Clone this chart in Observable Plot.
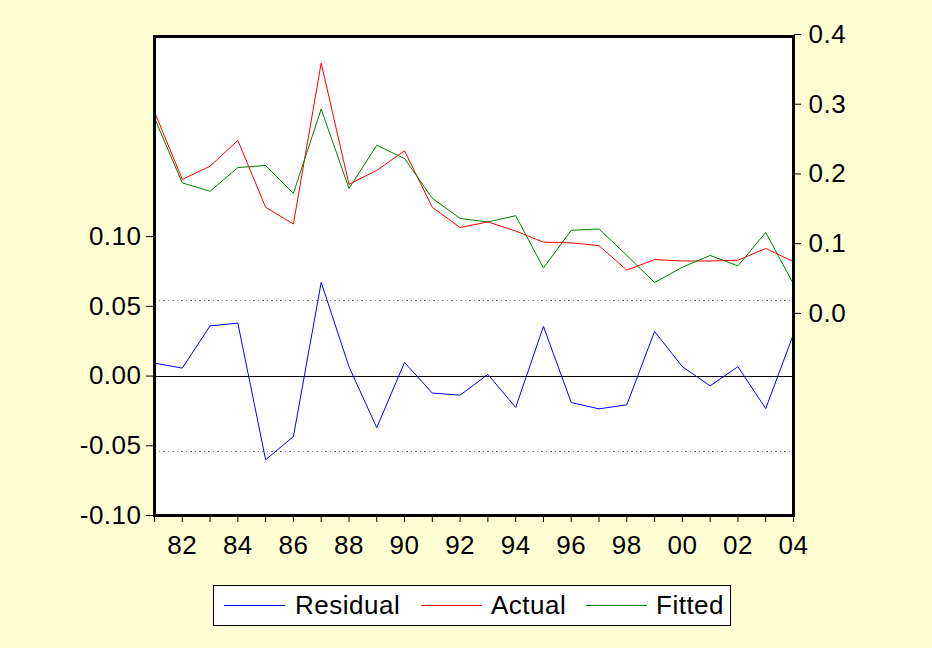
<!DOCTYPE html>
<html><head><meta charset="utf-8">
<script src="https://cdn.jsdelivr.net/npm/d3@7"></script>
<script src="https://cdn.jsdelivr.net/npm/@observablehq/plot@0.6"></script>
<style>
html,body{margin:0;padding:0;background:#ffffd4;}
#chart{width:932px;height:648px;position:relative;overflow:hidden;font-family:"Liberation Sans",Arial,sans-serif;}
#chart svg{position:absolute;left:0;top:0;}
.legend{position:absolute;left:213px;top:585px;width:518px;height:41px;border:1px solid #000;background:#fff;box-sizing:border-box;font-size:26px;letter-spacing:0.5px;color:#000;}
.legend .sw{position:absolute;top:19px;width:61px;height:0;border-top:1px solid;}
.legend .lb{position:absolute;top:5px;line-height:29px;white-space:nowrap;}
</style>
</head><body>
<div id="chart"></div>
<script>
// ---- data ----
const years    = [1981,1982,1983,1984,1985,1986,1987,1988,1989,1990,1991,1992,1993,1994,1995,1996,1997,1998,1999,2000,2001,2002,2003,2004];
const actual   = [0.292,0.195,0.214,0.251,0.155,0.131,0.362,0.188,0.208,0.236,0.155,0.126,0.134,0.121,0.105,0.104,0.100,0.065,0.080,0.078,0.078,0.079,0.096,0.077];
const fitted   = [0.283,0.190,0.178,0.212,0.215,0.175,0.296,0.182,0.244,0.225,0.168,0.139,0.134,0.143,0.068,0.122,0.124,0.086,0.047,0.069,0.086,0.071,0.119,0.045];
const residual = [0.0093,0.0057,0.0360,0.0380,-0.0600,-0.0434,0.0672,0.0067,-0.0370,0.0098,-0.0122,-0.0137,0.0012,-0.0225,0.0356,-0.0190,-0.0235,-0.0206,0.0320,0.0067,-0.0070,0.0067,-0.0233,0.0300];
const seBand   = 0.054;                 // +/- 1 S.E. dotted lines
const leftTicks  = [-0.10,-0.05,0,0.05,0.10];
const rightTicks = [0.0,0.1,0.2,0.3,0.4];
const labelYears = [1982,1984,1986,1988,1990,1992,1994,1996,1998,2000,2002,2004];
const seriesNames  = ["Residual","Actual","Fitted"];
const seriesColors = ["#0000ff","#ff0000","#008000"];

// right (actual/fitted) axis expressed on the left (residual) scale
const R_OFF = 0.04353, R_K = 0.5;
const toLeft = v => R_OFF + R_K * v;

const data = years.map((y, i) => ({year: y, actual: actual[i], fitted: fitted[i], residual: residual[i]}));

const plot = Plot.plot({
  width: 932, height: 575,
  marginLeft: 154, marginRight: 139, marginTop: 36, marginBottom: 60,
  style: {background: "transparent", fontFamily: "Liberation Sans, Arial, sans-serif", fontSize: "26px", color: "#000", letterSpacing: "0.5px", overflow: "visible"},
  x: {domain: [1981, 2004], label: null},
  y: {domain: [-0.10, toLeft(0.4)], label: null},
  marks: [
    Plot.frame({fill: "white"}),
    Plot.ruleY([seBand, -seBand], {stroke: "#808080", strokeDasharray: "1.5,3", shapeRendering: "crispEdges"}),
    Plot.ruleY([0], {stroke: "black", strokeWidth: 1, shapeRendering: "crispEdges"}),
    Plot.line(data, {x: "year", y: d => toLeft(d.actual), stroke: seriesColors[1], strokeWidth: 1}),
    Plot.line(data, {x: "year", y: d => toLeft(d.fitted), stroke: seriesColors[2], strokeWidth: 1}),
    Plot.line(data, {x: "year", y: "residual", stroke: seriesColors[0], strokeWidth: 1}),
    Plot.axisY(leftTicks, {anchor: "left", label: null, tickSize: 8, tickPadding: 5, tickFormat: d => d.toFixed(2)}),
    Plot.axisY(rightTicks.map(toLeft), {anchor: "right", label: null, tickSize: 7, tickPadding: 8, dy: -2, tickFormat: d => ((d - R_OFF) / R_K).toFixed(1)}),
    Plot.axisX(years, {anchor: "bottom", label: null, tickSize: 7, tickPadding: 13, tickFormat: d => labelYears.includes(d) ? String(d).slice(2) : ""}),
    Plot.frame({stroke: "black", strokeWidth: 3})
  ]
});
const chart = document.getElementById("chart");
chart.appendChild(plot);

// legend (HTML, below the SVG area)
const lg = document.createElement("div");
lg.className = "legend";
const swX = [10, 207, 372], lbX = [81, 277, 442];
seriesNames.forEach((n, i) => {
  const sw = document.createElement("span"); sw.className = "sw"; sw.style.left = swX[i] + "px"; sw.style.borderTopColor = seriesColors[i];
  const lb = document.createElement("span"); lb.className = "lb"; lb.style.left = lbX[i] + "px"; lb.textContent = n;
  lg.appendChild(sw); lg.appendChild(lb);
});
chart.appendChild(lg);
</script>
</body></html>
